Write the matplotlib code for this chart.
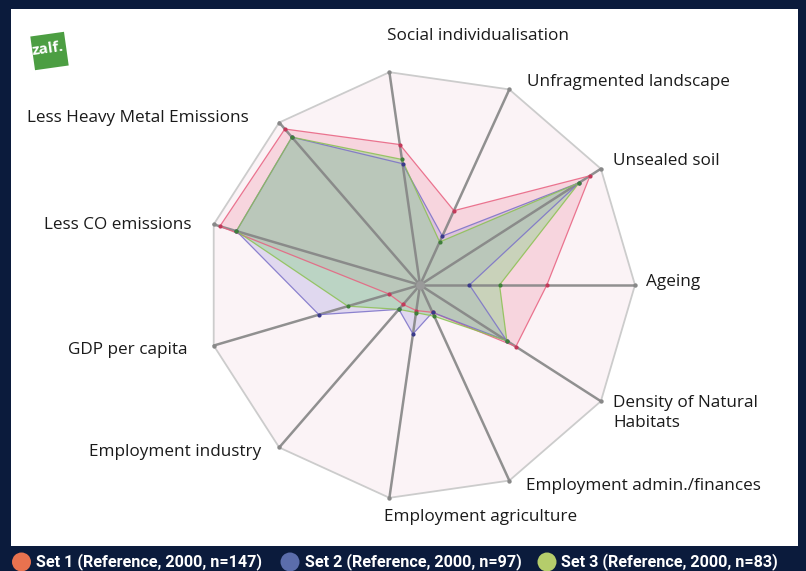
import numpy as np
import matplotlib
matplotlib.use('Agg')
import matplotlib.pyplot as plt
from matplotlib.patches import Rectangle, Ellipse, Polygon
from matplotlib import font_manager

# ---------------- data ----------------
categories = ["Ageing", "Unsealed soil", "Unfragmented landscape",
              "Social individualisation", "Less Heavy Metal Emissions",
              "Less CO emissions", "GDP per capita", "Employment industry",
              "Employment agriculture", "Employment admin./finances",
              "Density of Natural Habitats"]
set1 = [0.59, 0.94, 0.38, 0.66, 0.96, 0.97, 0.15, 0.12, 0.12, 0.14, 0.53]
set2 = [0.23, 0.88, 0.25, 0.57, 0.91, 0.89, 0.49, 0.15, 0.23, 0.14, 0.48]
set3 = [0.37, 0.88, 0.22, 0.59, 0.91, 0.89, 0.35, 0.15, 0.13, 0.16, 0.48]
legend_labels = ["Set 1 (Reference, 2000, n=147)",
                 "Set 2 (Reference, 2000, n=97)",
                 "Set 3 (Reference, 2000, n=83)"]

# ---------------- style ----------------
NAVY = '#0b1b3c'
W, H = 806, 571

def fx(px):
    return px / W

def fy(py):
    return 1 - py / H

def pick(fams):
    for f in fams:
        try:
            font_manager.findfont(font_manager.FontProperties(family=f), fallback_to_default=False)
            return f
        except Exception:
            pass
    return 'DejaVu Sans'

LABEL_FONT = pick(['Open Sans', 'Lato', 'DejaVu Sans'])
LEG_FONT = pick(['Liberation Sans Narrow', 'Roboto', 'DejaVu Sans'])

fig = plt.figure(figsize=(W / 100, H / 100), dpi=100)
fig.patch.set_facecolor(NAVY)
fig.add_artist(Rectangle((fx(11), fy(546)), (798 - 11) / W, (546 - 9) / H,
                         transform=fig.transFigure, facecolor='white',
                         edgecolor='none', zorder=0))

cx, cy, R = 420, 285, 215
pad = 240
ax = fig.add_axes([fx(cx - pad), fy(cy + pad), 2 * pad / W, 2 * pad / H])
lim = pad / R
ax.set_xlim(-lim, lim)
ax.set_ylim(-lim, lim)
ax.axis('off')
ax.patch.set_alpha(0)

n = len(categories)
theta = 2 * np.pi * np.arange(n) / n
ox, oy = np.cos(theta), np.sin(theta)

# outer polygon
ax.fill(ox, oy, facecolor='#fbf3f6', edgecolor='#cccccc', lw=1.3, zorder=1)

series = [
    (set1, '#ef7f9c', 0.26, '#e8607f', '#c23a5a'),
    (set2, '#8c84dc', 0.24, '#7a70c8', '#3a3a8a'),
    (set3, '#8ad08a', 0.42, '#8cc152', '#3f7f3a'),
]
for vals, fc, a, ec, mc in series:
    v = np.array(vals)
    ax.fill(v * ox, v * oy, facecolor=fc, alpha=a, edgecolor='none', zorder=2)

for i in range(n):
    ax.plot([0, ox[i]], [0, oy[i]], color='#858585', lw=1.8, alpha=0.9,
            zorder=3, solid_capstyle='round')

for vals, fc, a, ec, mc in series:
    v = np.array(vals)
    xs = np.append(v * ox, v[0] * ox[0])
    ys = np.append(v * oy, v[0] * oy[0])
    ax.plot(xs, ys, color=ec, lw=0.9, alpha=0.85, zorder=4)
    ax.scatter(v * ox, v * oy, s=9, color=mc, zorder=5, linewidths=0)

ax.scatter(ox, oy, s=10, color='#888888', zorder=5, linewidths=0)
ax.scatter([0], [0], s=40, color='#9a9a9a', zorder=5, linewidths=0)

# ---------------- labels ----------------
label_layout = {
    "Social individualisation": (478, 36, 'center'),
    "Unfragmented landscape": (527, 82, 'left'),
    "Unsealed soil": (613, 161, 'left'),
    "Ageing": (646, 282, 'left'),
    "Density of Natural Habitats": (613, 413, 'left'),
    "Employment admin./finances": (526, 486, 'left'),
    "Employment agriculture": (481, 517, 'center'),
    "Employment industry": (261, 452, 'right'),
    "GDP per capita": (187, 350, 'right'),
    "Less CO emissions": (192, 225, 'right'),
    "Less Heavy Metal Emissions": (249, 118, 'right'),
}
for cat in categories:
    x, y, ha = label_layout[cat]
    txt = cat
    if cat == "Density of Natural Habitats":
        txt = "Density of Natural\nHabitats"
    fig.text(fx(x), fy(y), txt, ha=ha, va='center', fontsize=12.3,
             family=LABEL_FONT, color='#1a1a1a', linespacing=1.4)

# ---------------- logo ----------------
ang = np.deg2rad(8)
c0 = np.array([49.5, 51.0])
half = 17
corners = np.array([[-half, -half], [half, -half], [half, half], [-half, half]])
rot = np.array([[np.cos(ang), np.sin(ang)], [-np.sin(ang), np.cos(ang)]])
pts = corners @ rot.T + c0
fig.add_artist(Polygon([(fx(p[0]), fy(p[1])) for p in pts], closed=True,
                       transform=fig.transFigure, facecolor='#4c9e42',
                       edgecolor='none', zorder=2))
fig.text(fx(48), fy(49), "zalf.", ha='center', va='center', fontsize=11,
         fontweight='bold', color='white', family=LABEL_FONT, rotation=8)

# ---------------- legend ----------------
leg_colors = ['#e8724f', '#5b6dab', '#b5cd6b']
leg_pos = [(21.5, 36), (290, 305), (547, 561)]
for lab, col, (cxp, tx) in zip(legend_labels, leg_colors, leg_pos):
    fig.add_artist(Ellipse((fx(cxp), fy(562)), 19 / W, 19 / H,
                           transform=fig.transFigure, facecolor=col,
                           edgecolor='none', zorder=3))
    fig.text(fx(tx), fy(562), lab, ha='left', va='center', fontsize=11.6,
             fontweight='bold', color='white', family=LEG_FONT)

fig.savefig('out.png', dpi=100, facecolor=fig.get_facecolor())
